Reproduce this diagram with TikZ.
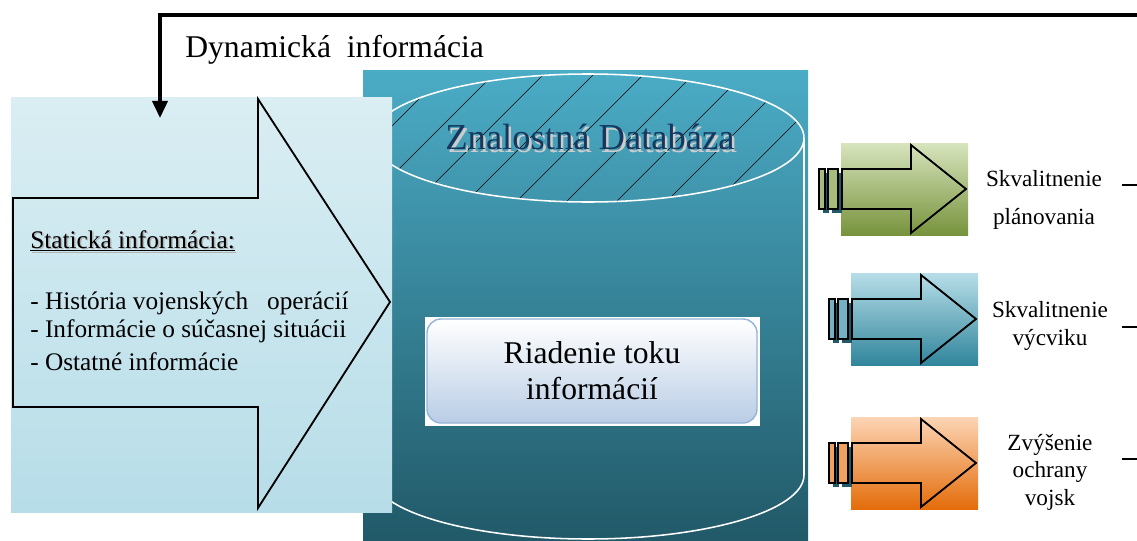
\documentclass[tikz,border=0pt]{standalone}
\usepackage{fontspec}
\setmainfont{Liberation Serif}
\usepackage{xcolor}
\usepackage{tikz}
\usetikzlibrary{arrows.meta}

\definecolor{leftTop}{HTML}{DAEEF3}
\definecolor{leftBot}{HTML}{B7DDE8}
\definecolor{cylTop}{HTML}{4BACC6}
\definecolor{cylBot}{HTML}{215968}
\definecolor{dbInk}{HTML}{17375E}
\definecolor{boxBot}{HTML}{B9CDE5}
\definecolor{boxRim}{HTML}{95B3D7}
\definecolor{grnTop}{HTML}{D7E4BD}
\definecolor{grnBot}{HTML}{77933C}
\definecolor{bluTop}{HTML}{B7DEE8}
\definecolor{bluBot}{HTML}{31859C}
\definecolor{orgTop}{HTML}{FCD5B5}
\definecolor{orgBot}{HTML}{E46C0A}

\tikzstyle{fback} = [line width=2.6pt,-{Triangle[length=4.3mm,width=3.8mm]}]
\tikzstyle{outline} = [line width=1.3pt, line join=miter]
\tikzstyle{rimline} = [white, line width=1.1pt]
\tikzstyle{hatch} = [black, line width=0.45pt]
\tikzstyle{barshadow} = [fill=cylBot]
\tikzstyle{ltext} = [anchor=base west, inner sep=0pt, font=\fontsize{18}{22}\selectfont]
\tikzstyle{rtext} = [align=center, inner sep=0pt, font=\fontsize{16.5}{19.5}\selectfont]

\begin{document}
\begin{tikzpicture}[x=0.25mm,y=-0.25mm]
\useasboundingbox (0,0) rectangle (1137,540);

% Database cylinder:
\shade[top color=cylTop, bottom color=cylBot] (363,70) rectangle (808,540);
\begin{scope}
\clip (588,138) ellipse [x radius=54mm, y radius=16mm];
\foreach \x in {358,408,...,1058}
	\draw[hatch] (\x,60) -- (\x-160,220);
\end{scope}
\draw[rimline] (588,138) ellipse [x radius=54mm, y radius=16mm];
\draw[rimline] (804,138) -- (804,475) arc[start angle=0, end angle=-180, x radius=54mm, y radius=16mm];
\node[text=gray!40, font=\fontsize{26}{30}\selectfont] (dbshadow) at (592.5,139.5) {Znalostná Databáza};
\node[text=dbInk, font=\fontsize{26}{30}\selectfont] (dbname) at (590,137) {Znalostná Databáza};

% Flow control box:
\fill[white] (425,317) rectangle (760,426);
\node[draw=boxRim, line width=1pt, rounded corners=10pt, top color=white, bottom color=boxBot,
	minimum width=82.5mm, minimum height=26mm, align=center,
	font=\fontsize{22.5}{25.5}\selectfont] (flow) at (592,371) {Riadenie toku\\informácií};

% Static information arrow:
\shade[top color=leftTop, bottom color=leftBot] (11,97) rectangle (392,512);
\draw[outline] (13,198) -- (258,198) -- (258,99) -- (390,302) -- (258,508) -- (258,407) -- (13,407) -- cycle;
\node[ltext, text=gray!60] (statshadow) at (31.5,249.5) {\underline{Statická informácia:}};
\node[ltext] (stat) at (30,248) {\underline{Statická informácia:}};
\node[ltext] (hist) at (30,309) {- História vojenských\ \ \ operácií};
\node[ltext] (curr) at (30,337) {- Informácie o súčasnej\ situácii};
\node[ltext] (other) at (30,370) {- Ostatné informácie};

% Output arrows:
\foreach \L/\cy/\ctop/\cbot in {841/189/grnTop/grnBot, 851/319/bluTop/bluBot, 851/463/orgTop/orgBot}{
	\shade[top color=\ctop, bottom color=\cbot] (\L,\cy-46) rectangle (\L+127,\cy+46);
	\fill[barshadow] (\L-18,\cy-16) rectangle (\L-12,\cy+24);
	\fill[barshadow] (\L-9,\cy-16) rectangle (\L+1,\cy+24);
	\draw[outline, fill=\ctop!50!\cbot] (\L-22,\cy-20) rectangle (\L-16,\cy+20);
	\draw[outline, fill=\ctop!50!\cbot] (\L-13,\cy-20) rectangle (\L-3,\cy+20);
	\draw[outline] (\L+1,\cy-20) -- (\L+70,\cy-20) -- (\L+70,\cy-44) -- (\L+125,\cy)
		-- (\L+70,\cy+44) -- (\L+70,\cy+20) -- (\L+1,\cy+20) -- cycle;
}
\node[rtext] (goalA) at (1044,200) {Skvalitnenie\\[7pt]plánovania};
\node[rtext] (goalB) at (1050,326) {Skvalitnenie\\výcviku};
\node[rtext] (goalC) at (1050,472) {Zvýšenie\\ochrany\\vojsk};

% Lines leaving the frame:
\foreach \n/\y in {A/185, B/327, C/459}{
	\coordinate (out\n) at (1122,\y);
	\coordinate (edge\n) at (1137,\y);
	\draw[line width=1.1pt] (out\n) -- (edge\n);
}

% Feedback line:
\coordinate (fbstart) at (1137,15);
\coordinate (fbin) at (160,118);
\draw[fback] (fbstart) -| (fbin);
\node[anchor=base west, inner sep=0pt, font=\fontsize{22.5}{26}\selectfont] (dyn) at (185,57) {Dynamická\ \ informácia};
\end{tikzpicture}
\end{document}
